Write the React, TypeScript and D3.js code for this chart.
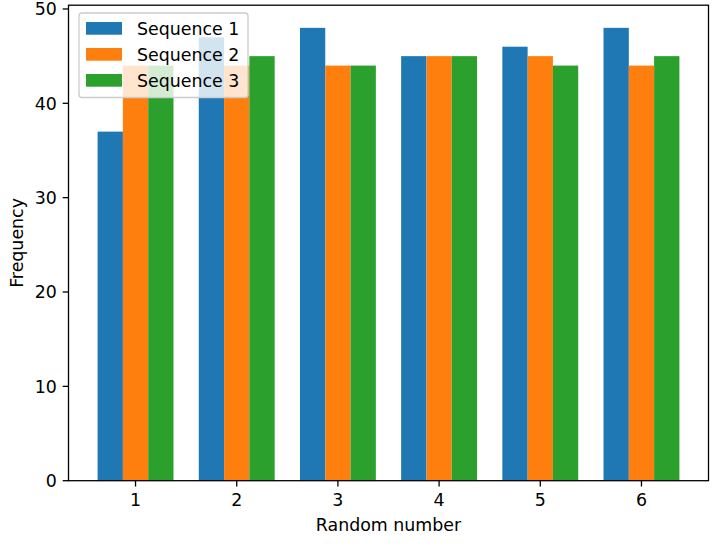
import React from "react";
import * as d3 from "d3";

const categories = [1, 2, 3, 4, 5, 6];
const seriesNames = ["Sequence 1", "Sequence 2", "Sequence 3"];
const seq1 = [37, 47, 48, 45, 46, 48];
const seq2 = [44, 44, 44, 45, 45, 44];
const seq3 = [44, 45, 44, 45, 44, 45];
const yTicks = [0, 10, 20, 30, 40, 50];
const colors = ["#1f77b4", "#ff7f0e", "#2ca02c"];

const W = 713;
const H = 544;
const left = 68.5;
const right = 708.5;
const top = 5.2;
const bottom = 480.7;
const FONT = "DejaVu Sans, sans-serif";
const FS = 17.4;

export default function App() {
  const series = [seq1, seq2, seq3];
  const barW = 0.25;
  const x = d3.scaleLinear().domain([1 - 1.5 * barW - 0.2875, 6 + 1.5 * barW + 0.2875]).range([left, right]);
  const y = d3.scaleLinear().domain([0, 50.4]).range([bottom, top]);
  const offsets = [-barW, 0, barW];

  return (
    <svg width={W} height={H} style={{ position: "absolute", left: 0, top: 0 }} fontFamily={FONT}>
      <rect x={0} y={0} width={W} height={H} fill="white" />
      {series.map((vals, si) =>
        vals.map((v, ci) => {
          const cx = categories[ci] + offsets[si];
          const x0 = x(cx - barW / 2);
          const x1 = x(cx + barW / 2);
          return (
            <rect key={`${si}-${ci}`} x={x0} y={y(v)} width={x1 - x0} height={y(0) - y(v)} fill={colors[si]} />
          );
        })
      )}
      {/* spines */}
      <rect x={left} y={top} width={right - left} height={bottom - top} fill="none" stroke="black" strokeWidth={1.3} />
      {/* y ticks */}
      {yTicks.map((t) => (
        <g key={t}>
          <line x1={left - 5.8} x2={left} y1={y(t)} y2={y(t)} stroke="black" strokeWidth={1.3} />
          <text x={left - 11.6} y={y(t)} dy="0.36em" textAnchor="end" fontSize={FS}>
            {t}
          </text>
        </g>
      ))}
      {/* x ticks */}
      {categories.map((c) => (
        <g key={c}>
          <line x1={x(c)} x2={x(c)} y1={bottom} y2={bottom + 5.8} stroke="black" strokeWidth={1.3} />
          <text x={x(c)} y={bottom + 24.8} textAnchor="middle" fontSize={FS}>
            {c}
          </text>
        </g>
      ))}
      <text x={(left + right) / 2} y={531} textAnchor="middle" fontSize={FS}>
        Random number
      </text>
      <text transform={`translate(23, ${(top + bottom) / 2}) rotate(-90)`} textAnchor="middle" fontSize={FS}>
        Frequency
      </text>
      {/* legend */}
      <g>
        <rect x={79} y={13} width={169} height={84.5} rx={3} fill="white" fillOpacity={0.8} stroke="#cccccc" strokeWidth={1.3} />
        {seriesNames.map((n, i) => (
          <g key={n}>
            <rect x={86} y={22 + i * 26} width={36} height={12.7} fill={colors[i]} />
            <text x={137} y={35 + i * 26} fontSize={FS}>
              {n}
            </text>
          </g>
        ))}
      </g>
    </svg>
  );
}
